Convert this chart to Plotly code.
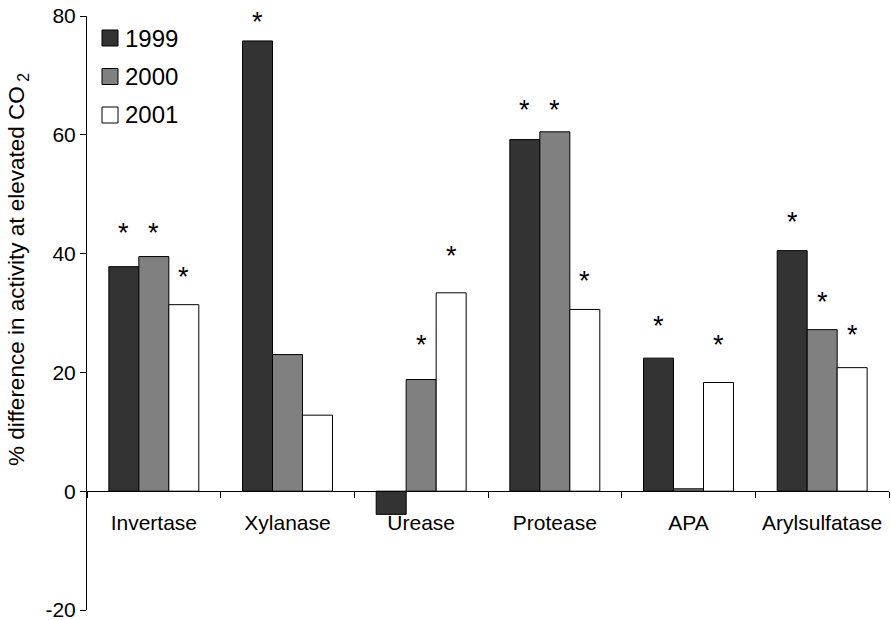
import plotly.graph_objects as go

categories = ["Invertase", "Xylanase", "Urease", "Protease", "APA", "Arylsulfatase"]
series_names = ["1999", "2000", "2001"]
values_1999 = [37.8, 75.8, -3.9, 59.2, 22.4, 40.5]
values_2000 = [39.5, 23.0, 18.8, 60.5, 0.4, 27.2]
values_2001 = [31.4, 12.8, 33.4, 30.6, 18.3, 20.8]
# heights of the significance asterisks (None = not significant)
stars_1999 = [44.5, 80.0, None, 65.2, 28.8, 46.3]
stars_2000 = [44.5, None, 25.6, 65.2, None, 32.8]
stars_2001 = [37.0, None, 40.6, 36.4, 25.6, 27.3]
y_ticks = [-20, 0, 20, 40, 60, 80]
y_tick_labels = ["-20", "0", "20", "40", "60", "80"]
y_title = "% difference in activity at elevated CO<sub> 2</sub>"

colors = ["#333333", "#808080", "#ffffff"]
values = [values_1999, values_2000, values_2001]
stars = [stars_1999, stars_2000, stars_2001]

BARGAP = 0.327
bar_w = (1 - BARGAP) / 3
font = "Liberation Sans, Arial, sans-serif"

W, H = 891, 620
L, R, T, B = 87, 2, 16, 10
PW, PH = W - L - R, H - T - B

def px_x(x):
    return (x - L) / PW

def px_y(y):
    return (H - B - y) / PH

fig = go.Figure()
xs = list(range(len(categories)))
for j, name in enumerate(series_names):
    fig.add_trace(go.Bar(
        x=xs, y=values[j], name=name, showlegend=False,
        marker=dict(color=colors[j], line=dict(color="black", width=1)),
    ))

# significance asterisks
for j in range(3):
    for i, s in enumerate(stars[j]):
        if s is not None:
            fig.add_annotation(x=i + (j - 1) * bar_w, y=s, xref="x", yref="y",
                               text="*", showarrow=False, yshift=-6,
                               xanchor="center", yanchor="middle",
                               font=dict(family=font, size=27, color="black"))

# custom legend (larger swatches than plotly's built-in legend)
leg_x0, leg_y0, leg_dy, sw = 102, 38, 38.5, 16
for j, name in enumerate(series_names):
    cy = leg_y0 + j * leg_dy
    fig.add_shape(type="rect", xref="paper", yref="paper",
                  x0=px_x(leg_x0), x1=px_x(leg_x0 + sw),
                  y0=px_y(cy + sw / 2), y1=px_y(cy - sw / 2),
                  fillcolor=colors[j], line=dict(color="black", width=1))
    fig.add_annotation(xref="paper", yref="paper",
                       x=px_x(leg_x0 + sw + 5), y=px_y(cy),
                       xanchor="left", yanchor="middle", showarrow=False,
                       text=name, font=dict(family=font, size=24, color="black"))

# y-axis title
fig.add_annotation(xref="paper", yref="paper", x=px_x(18), y=px_y(270),
                   xanchor="center", yanchor="middle", showarrow=False,
                   textangle=-90, text=y_title,
                   font=dict(family=font, size=22.5, color="black"))

fig.update_layout(
    width=W, height=H,
    margin=dict(l=L, r=R, t=T, b=B),
    paper_bgcolor="white", plot_bgcolor="white",
    barmode="group", bargap=BARGAP, bargroupgap=0,
    font=dict(family=font, size=21, color="black"),
    showlegend=False,
    xaxis=dict(
        range=[-0.5, len(categories) - 0.5],
        tickmode="array", tickvals=xs, ticktext=categories,
        ticks="outside", ticklen=13, tickcolor="rgba(0,0,0,0)",
        tickfont=dict(size=21),
        minor=dict(tickmode="array", tickvals=[k - 0.5 for k in range(len(categories) + 1)],
                   ticks="outside", ticklen=6, tickcolor="black", tickwidth=1, showgrid=False),
        showline=True, linecolor="black", linewidth=1,
        showgrid=False, zeroline=False,
        anchor="free", position=0.2, automargin=False,
        ticklabeloverflow="allow",
    ),
    yaxis=dict(
        range=[-20, 80], tickmode="array", tickvals=y_ticks, ticktext=y_tick_labels,
        ticks="outside", ticklen=6, tickcolor="black",
        tickfont=dict(size=21),
        showline=True, linecolor="black", linewidth=1,
        showgrid=False, zeroline=False, automargin=False,
        ticklabeloverflow="allow",
    ),
)

fig.write_html("out.html",
               config={"displayModeBar": False},
               post_script="document.body.style.margin='0px';document.body.style.overflow='hidden';")
